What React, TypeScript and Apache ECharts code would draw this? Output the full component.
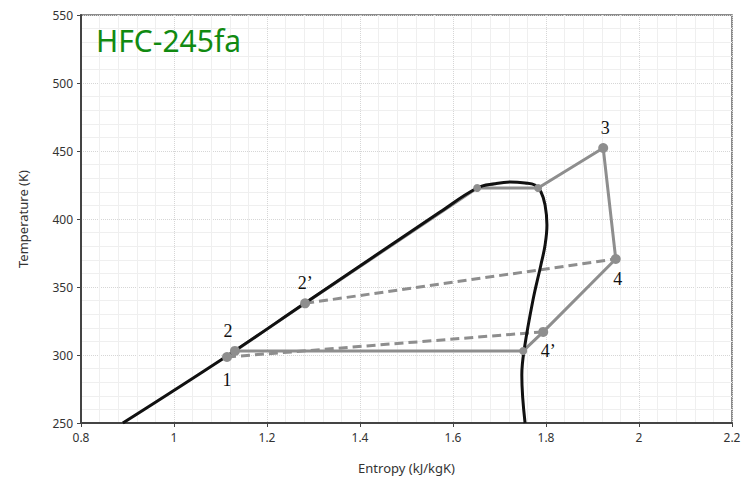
import React, { useEffect, useRef } from "react";
import * as echarts from "echarts";

// Saturation dome (entropy kJ/kgK, temperature K)
const domeS = [0.89, 1.114, 1.282, 1.572, 1.652, 1.69, 1.723, 1.755, 1.776, 1.789, 1.798, 1.802, 1.798, 1.789, 1.772, 1.753, 1.748, 1.755];
const domeT = [250, 299.3, 338.2, 405.1, 422.8, 425.9, 427.2, 426.5, 425, 420, 410.3, 395.6, 380.9, 366.2, 340.4, 303.7, 285.3, 250];

// Cycle state points
const pointNames = ["1", "2", "2’", "sl", "sv", "3", "4", "4’", "cv"];
const pointS = [1.114, 1.131, 1.282, 1.652, 1.783, 1.923, 1.95, 1.794, 1.751];
const pointT = [298.5, 303, 338, 422.8, 422.8, 452.2, 370.6, 317, 303];
const pointLabels = ["1", "2", "2’", "", "", "3", "4", "4’", ""];

// Solid cycle path (names of points)
const solidPath = ["2", "2’", "sl", "sv", "3", "4", "4’", "cv", "2"];
// Dashed paths
const dashedPathA = ["2’", "4"];
const dashedPathB = ["1", "4’"];

const xTicks = { min: 0.8, max: 2.2, interval: 0.2 };
const yTicks = { min: 250, max: 550, interval: 50 };

const pt = (name: string) => {
  const i = pointNames.indexOf(name);
  return [pointS[i], pointT[i]];
};

export default function App() {
  const ref = useRef<HTMLDivElement>(null);
  useEffect(() => {
    if (!ref.current) return;
    const chart = echarts.init(ref.current, undefined, { renderer: "svg" });
    const gray = "#8e8e8e";
    const labelPos: Record<string, any> = {
      "1": { position: "bottom", distance: 9, offset: [0, 0] },
      "2": { position: "top", distance: 6, offset: [-7, 0] },
      "2’": { position: "top", distance: 6, offset: [0, 0] },
      "3": { position: "top", distance: 6, offset: [2, 0] },
      "4": { position: "bottom", distance: 6, offset: [2, 0] },
      "4’": { position: "bottom", distance: 5, offset: [5, 0] },
    };
    const scatterData = pointNames.map((n, i) => {
      const lbl = pointLabels[i];
      const big = lbl !== "";
      return {
        value: [pointS[i], pointT[i]],
        symbolSize: big ? 10 : 8,
        label: lbl
          ? {
              show: true,
              formatter: lbl,
              fontFamily: "Liberation Serif",
              fontSize: 18,
              color: "#111",
              ...labelPos[lbl],
            }
          : { show: false },
      };
    });
    chart.setOption({
      animation: false,
      backgroundColor: "#fff",
      grid: {
        left: 81,
        top: 15,
        width: 651,
        height: 408,
        show: true,
        borderColor: "#666",
        borderWidth: 1.5,
      },
      xAxis: {
        type: "value",
        min: xTicks.min,
        max: xTicks.max,
        interval: xTicks.interval,
        name: "Entropy (kJ/kgK)",
        nameLocation: "middle",
        nameGap: 38,
        nameTextStyle: { fontFamily: "Noto Sans", fontSize: 13, color: "#333" },
        axisLine: { lineStyle: { color: "#444", width: 2 } },
        axisTick: { show: true, length: 4, lineStyle: { color: "#444" } },
        axisLabel: {
          fontFamily: "Noto Sans",
          fontSize: 12,
          color: "#333",
          margin: 8,
          formatter: (v: number) => String(Math.round(v * 10) / 10),
        },
        splitLine: { show: true, lineStyle: { color: "#d6d6d6", type: "dotted" } },
        minorTick: { show: false, splitNumber: 5 },
        minorSplitLine: { show: true, lineStyle: { color: "#efefef" } },
      },
      yAxis: {
        type: "value",
        min: yTicks.min,
        max: yTicks.max,
        interval: yTicks.interval,
        name: "Temperature (K)",
        nameLocation: "middle",
        nameGap: 52,
        nameTextStyle: { fontFamily: "Noto Sans", fontSize: 13, color: "#333" },
        axisLine: { show: true, lineStyle: { color: "#444", width: 2 } },
        axisTick: { show: true, length: 4, lineStyle: { color: "#444" } },
        axisLabel: { fontFamily: "Noto Sans", fontSize: 12, color: "#333", margin: 8 },
        splitLine: { show: true, lineStyle: { color: "#d6d6d6", type: "dotted" } },
        minorTick: { show: false, splitNumber: 5 },
        minorSplitLine: { show: true, lineStyle: { color: "#efefef" } },
      },
      graphic: [
        {
          type: "text",
          left: 96,
          top: 25,
          z: 100,
          style: {
            text: "HFC-245fa",
            fontFamily: "Noto Sans",
            fontSize: 30,
            fill: "#118a11",
          },
        },
      ],
      series: [
        {
          type: "line",
          data: solidPath.map(pt),
          symbol: "none",
          lineStyle: { color: gray, width: 3 },
          z: 2,
        },
        {
          type: "line",
          data: dashedPathA.map(pt),
          symbol: "none",
          lineStyle: { color: gray, width: 3, type: [9, 5] },
          z: 2,
        },
        {
          type: "line",
          data: dashedPathB.map(pt),
          symbol: "none",
          lineStyle: { color: gray, width: 3, type: [9, 5] },
          z: 2,
        },
        {
          type: "line",
          data: domeS.map((s, i) => [s, domeT[i]]),
          symbol: "none",
          smooth: 0.4,
          lineStyle: { color: "#111", width: 3 },
          z: 3,
        },
        {
          type: "scatter",
          data: scatterData,
          itemStyle: { color: gray, opacity: 1 },
          z: 4,
        },
      ],
    });
    return () => chart.dispose();
  }, []);
  return (
    <div
      ref={ref}
      style={{ position: "fixed", left: 0, top: 0, width: 746, height: 479 }}
    />
  );
}
